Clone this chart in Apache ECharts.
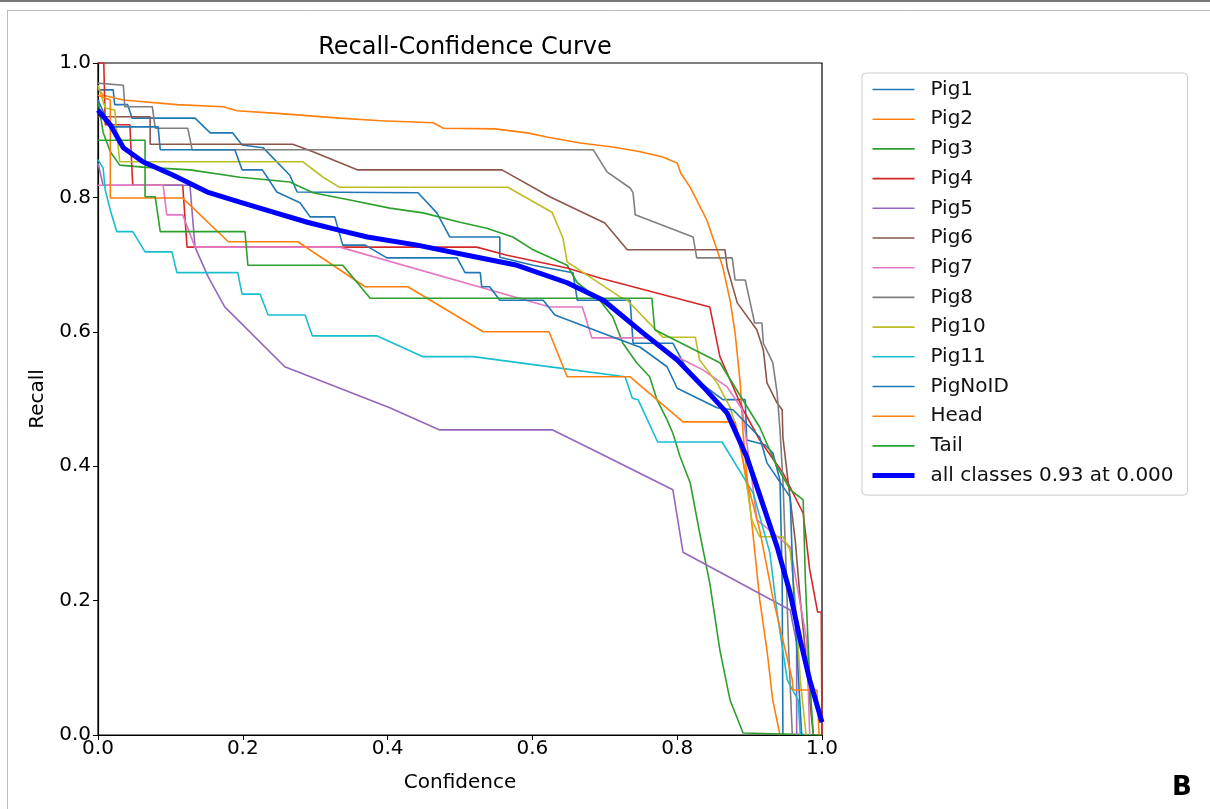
<!DOCTYPE html>
<html lang="en">
<head>
<meta charset="utf-8">
<title>Recall-Confidence Curve</title>
<script src="https://cdn.jsdelivr.net/npm/echarts@6/dist/echarts.min.js"></script>
<style>
  html, body { margin: 0; padding: 0; background: #fff; }
  #chart { width: 1210px; height: 809px; }
</style>
</head>
<body>
<div id="chart"></div>
<script>
// [confidence, recall] pairs
const pig1 = [[0,0.960],[0.021,0.960],[0.023,0.938],[0.041,0.938],[0.047,0.918],[0.134,0.918],[0.155,0.896],[0.186,0.896],[0.199,0.878],[0.228,0.874],[0.265,0.833],[0.275,0.808],[0.442,0.807],[0.468,0.777],[0.486,0.741],[0.555,0.741],[0.555,0.711],[0.601,0.699],[0.656,0.688],[0.662,0.647],[0.735,0.647],[0.739,0.583],[0.794,0.583],[0.814,0.543],[0.827,0.528],[0.863,0.499],[0.894,0.499],[0.896,0.439],[0.921,0.432],[0.932,0.420],[0.942,0.379],[0.945,0.231],[0.946,0]];
const pig2 = [[0,0.963],[0.007,0.952],[0.035,0.945],[0.109,0.938],[0.173,0.935],[0.192,0.929],[0.247,0.925],[0.334,0.918],[0.39,0.914],[0.463,0.911],[0.477,0.903],[0.548,0.902],[0.593,0.896],[0.620,0.890],[0.666,0.881],[0.711,0.875],[0.749,0.868],[0.780,0.860],[0.800,0.851],[0.805,0.836],[0.818,0.815],[0.827,0.796],[0.841,0.766],[0.855,0.722],[0.863,0.696],[0.873,0.647],[0.880,0.598],[0.887,0.524],[0.891,0.449],[0.897,0.377],[0.907,0.275],[0.914,0.201],[0.924,0.126],[0.932,0.052],[0.942,0]];
const pig3 = [[0,0.945],[0.007,0.897],[0.017,0.868],[0.030,0.848],[0.062,0.845],[0.127,0.841],[0.196,0.830],[0.265,0.823],[0.297,0.807],[0.348,0.796],[0.403,0.784],[0.449,0.777],[0.500,0.763],[0.537,0.754],[0.573,0.741],[0.601,0.722],[0.648,0.699],[0.662,0.673],[0.693,0.647],[0.711,0.622],[0.725,0.583],[0.744,0.554],[0.762,0.533],[0.772,0.499],[0.786,0.469],[0.794,0.449],[0.804,0.414],[0.818,0.375],[0.831,0.301],[0.845,0.226],[0.859,0.126],[0.873,0.052],[0.891,0.003],[1,0]];
const pig4 = [[0,1.0],[0.008,1.0],[0.010,0.908],[0.044,0.908],[0.048,0.818],[0.117,0.818],[0.123,0.726],[0.523,0.726],[0.565,0.714],[0.648,0.695],[0.693,0.680],[0.845,0.637],[0.859,0.563],[0.891,0.484],[0.914,0.439],[0.946,0.390],[0.974,0.330],[0.983,0.246],[0.994,0.183],[0.999,0.183],[1,0]];
const pig5 = [[0,0.851],[0.007,0.818],[0.127,0.818],[0.134,0.726],[0.152,0.682],[0.175,0.637],[0.258,0.548],[0.403,0.487],[0.472,0.454],[0.628,0.454],[0.684,0.424],[0.794,0.365],[0.808,0.272],[0.956,0.186],[0.965,0.137],[0.965,0]];
const pig6 = [[0,0.920],[0.072,0.920],[0.072,0.879],[0.269,0.879],[0.297,0.868],[0.358,0.841],[0.558,0.841],[0.624,0.801],[0.700,0.762],[0.731,0.722],[0.866,0.722],[0.869,0.696],[0.883,0.643],[0.910,0.603],[0.919,0.573],[0.924,0.524],[0.938,0.494],[0.945,0.484],[0.946,0.443],[0.953,0.379],[0.963,0.290],[0.970,0.201],[0.977,0.126],[0.983,0.052],[0.988,0]];
const pig7 = [[0,0.818],[0.090,0.818],[0.095,0.774],[0.117,0.774],[0.134,0.726],[0.334,0.726],[0.624,0.637],[0.669,0.637],[0.682,0.591],[0.760,0.591],[0.790,0.568],[0.836,0.543],[0.869,0.518],[0.890,0.484],[0.905,0.365],[0.910,0.320],[0.956,0.280],[0.979,0.141],[0.983,0]];
const pig8 = [[0,0.970],[0.035,0.967],[0.037,0.935],[0.075,0.935],[0.079,0.903],[0.124,0.903],[0.130,0.871],[0.684,0.871],[0.703,0.838],[0.735,0.814],[0.739,0.807],[0.742,0.774],[0.822,0.741],[0.827,0.710],[0.876,0.710],[0.880,0.677],[0.894,0.677],[0.907,0.613],[0.917,0.613],[0.919,0.583],[0.932,0.554],[0.938,0.509],[0.942,0.454],[0.946,0.379],[0.950,0.260],[0.954,0.126],[0.959,0]];
const pig10 = [[0,0.967],[0.010,0.933],[0.023,0.930],[0.030,0.853],[0.283,0.853],[0.311,0.830],[0.334,0.815],[0.566,0.815],[0.627,0.778],[0.642,0.740],[0.648,0.704],[0.721,0.652],[0.731,0.647],[0.780,0.592],[0.825,0.592],[0.831,0.558],[0.855,0.524],[0.873,0.488],[0.887,0.439],[0.903,0.320],[0.914,0.295],[0.946,0.295],[0.956,0.275],[0.963,0.201],[0.970,0.082],[0.978,0]];
const pig11 = [[0,0.856],[0.007,0.844],[0.010,0.811],[0.017,0.781],[0.026,0.749],[0.048,0.749],[0.065,0.719],[0.102,0.719],[0.109,0.688],[0.193,0.688],[0.199,0.656],[0.224,0.656],[0.235,0.625],[0.286,0.625],[0.296,0.594],[0.385,0.594],[0.449,0.563],[0.518,0.563],[0.638,0.546],[0.728,0.533],[0.738,0.501],[0.746,0.499],[0.773,0.436],[0.862,0.436],[0.905,0.360],[0.928,0.271],[0.938,0.182],[0.952,0.082],[0.967,0.052],[0.970,0]];
const pigNoID = [[0,0.945],[0.017,0.905],[0.083,0.905],[0.086,0.871],[0.189,0.871],[0.199,0.841],[0.227,0.841],[0.247,0.808],[0.279,0.792],[0.293,0.771],[0.327,0.771],[0.338,0.729],[0.369,0.729],[0.399,0.710],[0.496,0.710],[0.507,0.688],[0.528,0.688],[0.530,0.667],[0.541,0.667],[0.555,0.647],[0.615,0.647],[0.631,0.625],[0.721,0.588],[0.749,0.577],[0.786,0.548],[0.800,0.516],[0.855,0.487],[0.877,0.484],[0.914,0.443],[0.924,0.405],[0.956,0.354],[0.960,0.231],[0.965,0.131],[0.972,0]];
const head = [[0,0.952],[0.017,0.945],[0.017,0.799],[0.117,0.799],[0.180,0.734],[0.276,0.734],[0.369,0.667],[0.428,0.667],[0.532,0.600],[0.623,0.600],[0.648,0.533],[0.735,0.533],[0.808,0.466],[0.880,0.466],[0.896,0.379],[0.914,0.305],[0.932,0.205],[0.959,0.082],[0.960,0.067],[0.993,0.067],[0.996,0]];
const tail = [[0,0.885],[0.065,0.885],[0.065,0.801],[0.079,0.801],[0.086,0.749],[0.203,0.749],[0.207,0.699],[0.338,0.699],[0.376,0.650],[0.765,0.650],[0.769,0.603],[0.859,0.554],[0.914,0.458],[0.938,0.399],[0.956,0.365],[0.974,0.350],[0.977,0.231],[0.983,0.082],[0.988,0]];
const allClasses = [[0,0.93],[0.017,0.908],[0.035,0.874],[0.062,0.853],[0.104,0.833],[0.151,0.808],[0.196,0.793],[0.242,0.778],[0.289,0.763],[0.334,0.751],[0.372,0.741],[0.441,0.729],[0.510,0.714],[0.579,0.699],[0.648,0.673],[0.698,0.647],[0.753,0.598],[0.800,0.558],[0.836,0.518],[0.869,0.479],[0.896,0.414],[0.914,0.357],[0.938,0.280],[0.956,0.211],[0.970,0.141],[0.983,0.082],[1,0.019]];

const classNames = ['Pig1','Pig2','Pig3','Pig4','Pig5','Pig6','Pig7','Pig8','Pig10','Pig11','PigNoID','Head','Tail'];
const classCurves = [pig1, pig2, pig3, pig4, pig5, pig6, pig7, pig8, pig10, pig11, pigNoID, head, tail];
const classColors = ['#1f77b4','#ff7f0e','#2ca02c','#d62728','#9467bd','#8c564b','#e377c2','#7f7f7f','#bcbd22','#17becf','#1f77b4','#ff7f0e','#2ca02c'];
const allName = 'all classes 0.93 at 0.000';

const font = 'DejaVu Sans';
const chart = echarts.init(document.getElementById('chart'), null, { renderer: 'canvas' });

let series = classNames.map(function (name, i) {
    return {
        name: name,
        type: 'line',
        data: classCurves[i],
        symbol: 'none',
        color: classColors[i],
        lineStyle: { width: 1.6, color: classColors[i] },
        z: 2
    };
});
series.push({
    name: allName,
    type: 'line',
    data: allClasses,
    symbol: 'none',
    color: '#0000ff',
    lineStyle: { width: 5, color: '#0000ff' },
    z: 3
});

// legend entries: thin lines for classes, thick line for the mean curve
let legendData = classNames.map(function (n) { return { name: n, lineStyle: { width: 1.6 } }; });
legendData.push({ name: allName, lineStyle: { width: 5 } });

const option = {
    animation: false,
    backgroundColor: '#fff',
    title: {
        text: 'Recall-Confidence Curve',
        left: 460, top: 31, textAlign: 'center',
        textStyle: { fontFamily: font, fontSize: 24, fontWeight: 'normal', color: '#000' }
    },
    legend: {
        orient: 'vertical',
        left: 862, top: 73,
        padding: [5, 14, 8, 8],
        itemWidth: 42, itemHeight: 14, itemGap: 6.7,
        itemStyle: { opacity: 0 },
        borderColor: '#cccccc', borderWidth: 1, borderRadius: 4,
        textStyle: { fontFamily: font, fontSize: 20, color: '#111', lineHeight: 23, padding: [0, 0, 0, 11] },
        data: legendData
    },
    grid: {
        left: 98, top: 63, width: 724, height: 672,
        show: true, borderColor: '#000', borderWidth: 1.2
    },
    xAxis: {
        type: 'value', min: 0, max: 1, interval: 0.2,
        name: 'Confidence', nameLocation: 'middle', nameGap: 38,
        nameTextStyle: { fontFamily: font, fontSize: 20, color: '#000' },
        axisLine: { show: true, lineStyle: { color: '#000', width: 1.2 } },
        axisTick: { show: true, length: 5, lineStyle: { color: '#000' } },
        axisLabel: { fontFamily: font, fontSize: 20, color: '#000', margin: 4,
            formatter: function (v) { return v.toFixed(1); } },
        splitLine: { show: false }
    },
    yAxis: {
        type: 'value', min: 0, max: 1, interval: 0.2,
        name: 'Recall', nameLocation: 'middle', nameGap: 50,
        nameTextStyle: { fontFamily: font, fontSize: 20, color: '#000' },
        axisLine: { show: true, lineStyle: { color: '#000', width: 1.2 } },
        axisTick: { show: true, length: 5, lineStyle: { color: '#000' } },
        axisLabel: { fontFamily: font, fontSize: 20, color: '#000', margin: 7,
            formatter: function (v) { return v.toFixed(1); } },
        splitLine: { show: false }
    },
    graphic: [
        { type: 'line', shape: { x1: 0, y1: 1, x2: 1210, y2: 1 }, style: { stroke: '#777', lineWidth: 2 } },
        { type: 'line', shape: { x1: 7, y1: 10.5, x2: 1210, y2: 10.5 }, style: { stroke: '#bbb', lineWidth: 1 } },
        { type: 'line', shape: { x1: 7.5, y1: 10, x2: 7.5, y2: 809 }, style: { stroke: '#bbb', lineWidth: 1 } },
        { type: 'text', left: 1172, top: 775,
          style: { text: 'B', font: 'bold 26px "DejaVu Sans"', fill: '#000' } }
    ],
    series: series
};

chart.setOption(option);
</script>
</body>
</html>
